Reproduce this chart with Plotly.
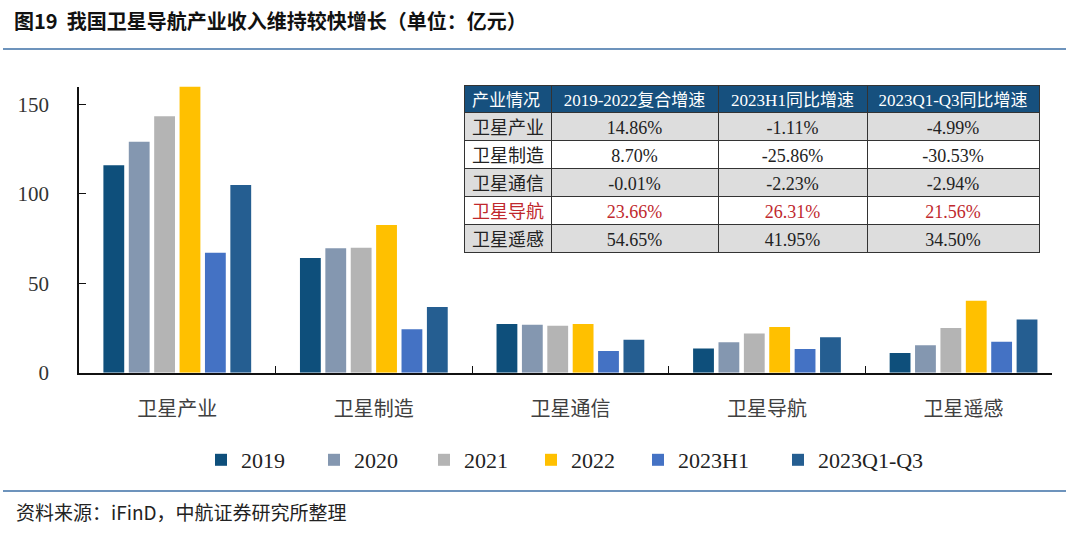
import plotly.graph_objects as go

categories = ["卫星产业", "卫星制造", "卫星通信", "卫星导航", "卫星遥感"]
series_names = ["2019", "2020", "2021", "2022", "2023H1", "2023Q1-Q3"]
v2019 = [116.0, 64.1, 27.2, 13.5, 11.0]
v2020 = [129.2, 69.6, 26.8, 17.0, 15.3]
v2021 = [143.4, 69.9, 26.3, 21.9, 25.0]
v2022 = [160.6, 82.6, 27.2, 25.6, 40.2]
v2023h1 = [67.1, 24.3, 12.1, 13.3, 17.3]
v2023q3 = [105.0, 36.7, 18.4, 19.8, 29.7]
series_values = [v2019, v2020, v2021, v2022, v2023h1, v2023q3]
colors = ["#0E4F7B", "#8497B0", "#B4B4B4", "#FFC000", "#4472C4", "#255E91"]

y_ticks = [0, 50, 100, 150]

table_header = ["产业情况", "2019-2022复合增速", "2023H1同比增速", "2023Q1-Q3同比增速"]
table_rows = ["卫星产业", "卫星制造", "卫星通信", "卫星导航", "卫星遥感"]
cagr_19_22 = ["14.86%", "8.70%", "-0.01%", "23.66%", "54.65%"]
yoy_h1 = ["-1.11%", "-25.86%", "-2.23%", "26.31%", "41.95%"]
yoy_q3 = ["-4.99%", "-30.53%", "-2.94%", "21.56%", "34.50%"]
highlight_row = "卫星导航"

title_text = "图19  我国卫星导航产业收入维持较快增长（单位：亿元）"
source_text = "资料来源：iFinD，中航证券研究所整理"

W, H = 1080, 535
SERIF = "Liberation Serif, Noto Sans CJK SC, serif"
CJK = "Noto Sans CJK SC, sans-serif"

# legend x positions (px) for each series entry
legend_x_px = [201, 314, 424, 531, 638, 778]

fig = go.Figure()
for i, (name, vals, col) in enumerate(zip(series_names, series_values, colors)):
    fig.add_trace(go.Bar(
        x=categories, y=vals, name=name,
        marker=dict(color=col, line=dict(width=0)),
        legend="legend" if i == 0 else f"legend{i + 1}",
    ))

row_fill = ["#DDDDDD" if i % 2 == 0 else "#FFFFFF" for i in range(len(table_rows))]
row_font = ["#C0282D" if r == highlight_row else "#222222" for r in table_rows]

fig.add_trace(go.Table(
    domain=dict(x=[464 / W, 1039.5 / W], y=[1 - 275 / H, 1 - 85 / H]),
    columnwidth=[87, 167, 149, 172],
    header=dict(
        values=table_header,
        fill_color="#16507E",
        line=dict(color="#333333", width=1),
        font=dict(family=SERIF, size=17, color="white"),
        align=["left", "center", "center", "center"],
        height=27.5,
    ),
    cells=dict(
        values=[table_rows, cagr_19_22, yoy_h1, yoy_q3],
        fill_color=[row_fill] * 4,
        line=dict(color="#333333", width=1),
        font=dict(family=SERIF, size=18, color=[row_font] * 4),
        align=["left", "center", "center", "center"],
        height=28,
    ),
))

legend_common = dict(
    orientation="h", xanchor="left", y=1 - 460 / H, yanchor="middle",
    font=dict(family=SERIF, size=22, color="#222222"),
    itemwidth=30, bgcolor="rgba(0,0,0,0)",
)
legends = {}
for i, xp in enumerate(legend_x_px):
    key = "legend" if i == 0 else f"legend{i + 1}"
    legends[key] = dict(legend_common, x=xp / W)

fig.update_layout(
    width=W, height=H,
    margin=dict(l=0, r=0, t=0, b=0, autoexpand=False),
    paper_bgcolor="white", plot_bgcolor="white",
    barmode="group", bargap=0.225, bargroupgap=0.18,
    showlegend=True,
    xaxis=dict(
        domain=[79 / W, 1052 / W],
        range=[-0.5, 4.45],
        type="category",
        showline=True, linecolor="#111111", linewidth=1.5,
        ticks="inside", tickson="boundaries", ticklen=7, tickcolor="#111111", tickwidth=1.2,
        tickfont=dict(family=CJK, size=20, color="#404040"),
        ticklabelstandoff=18, automargin=False,
        showgrid=False, zeroline=False,
    ),
    yaxis=dict(
        domain=[1 - 372.7 / H, 1 - 86.7 / H],
        range=[0, 160],
        tickvals=y_ticks,
        showline=True, linecolor="#111111", linewidth=1.5,
        ticks="inside", ticklen=7, tickcolor="#111111", tickwidth=1.2,
        tickfont=dict(family=SERIF, size=21, color="#333333"),
        ticklabelstandoff=24, automargin=False,
        showgrid=False, zeroline=False,
    ),
    annotations=[
        dict(text=title_text, x=12 / W, y=1 - 20 / H, xref="paper", yref="paper",
             xanchor="left", yanchor="middle", showarrow=False,
             font=dict(family=CJK, size=20, color="#111111", weight="bold")),
        dict(text=source_text, x=14 / W, y=1 - 511 / H, xref="paper", yref="paper",
             xanchor="left", yanchor="middle", showarrow=False,
             font=dict(family=CJK, size=19, color="#222222")),
    ],
    shapes=[
        dict(type="line", xref="paper", yref="paper", x0=3 / W, x1=1066 / W,
             y0=1 - 49 / H, y1=1 - 49 / H, line=dict(color="#3D6FA6", width=1.5)),
        dict(type="line", xref="paper", yref="paper", x0=3 / W, x1=1066 / W,
             y0=1 - 491 / H, y1=1 - 491 / H, line=dict(color="#3D6FA6", width=1.5)),
    ],
    **legends,
)

post = (
    "document.documentElement.style.margin='0';"
    "document.body.style.margin='0';document.body.style.overflow='hidden';"
)
fig.write_html("out.html", config={"displayModeBar": False}, post_script=post)
